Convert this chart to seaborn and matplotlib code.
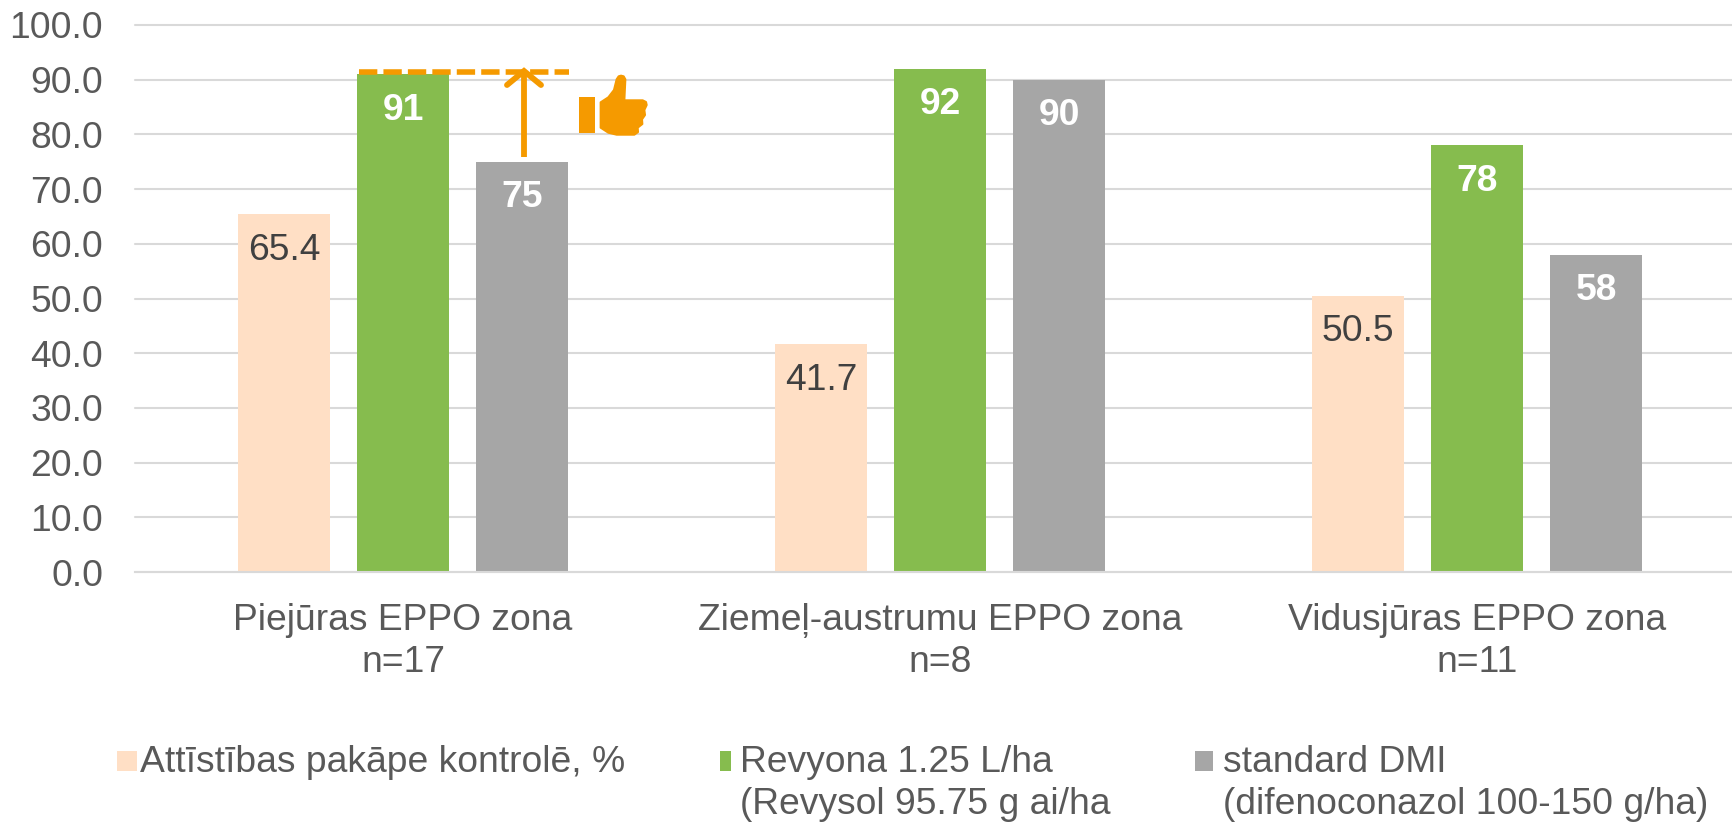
import pandas as pd
import seaborn as sns
import matplotlib
import matplotlib.pyplot as plt
from matplotlib.patches import Polygon, Rectangle
from matplotlib.lines import Line2D
from matplotlib.transforms import Affine2D
matplotlib.use('Agg')

zones = ['Piejūras EPPO zona\nn=17', 'Ziemeļ-austrumu EPPO zona\nn=8', 'Vidusjūras EPPO zona\nn=11']
series = ['Attīstības pakāpe kontrolē, %', 'Revyona 1.25 L/ha\n(Revysol 95.75 g ai/ha', 'standard DMI\n(difenoconazol 100-150 g/ha)']
control = [65.4, 41.7, 50.5]
revyona = [91, 92, 78]
dmi = [75, 90, 58]
yticks = [0, 10, 20, 30, 40, 50, 60, 70, 80, 90, 100]
colors = ['#FFDFC5', '#86BC4E', '#A6A6A6']
label_colors = ['#404040', 'white', 'white']
orange = '#F59A00'
text_color = '#595959'
fs = 26.8

sns.set_theme(style='white')
plt.rcParams['font.family'] = ['Liberation Sans', 'DejaVu Sans']

df = pd.DataFrame({
    'zone': zones * 3,
    'series': [s for s in series for _ in zones],
    'value': control + revyona + dmi,
})

fig = plt.figure(figsize=(17.32, 8.23), dpi=100)
ax = fig.add_axes([134.5 / 1732, 1 - 572 / 823, 1611 / 1732, 547 / 823])
sns.barplot(data=df, x='zone', y='value', hue='series', order=zones, hue_order=series,
            palette=colors, width=0.665, gap=0.225, saturation=1, legend=False,
            linewidth=0, ax=ax)
ax.set_xlim(-0.5, 2.5)
ax.set_ylim(0, 100)
ax.set_xlabel('')
ax.set_ylabel('')
ax.set_yticks(yticks, [f'{v:.1f}' for v in yticks])
ax.tick_params(axis='both', length=0, labelsize=fs, labelcolor=text_color)
ax.tick_params(axis='y', pad=22.5)
ax.tick_params(axis='x', pad=22.5)
for t in ax.get_xticklabels():
    t.set_linespacing(1.25)
ax.grid(axis='y', color='#D9D9D9', lw=1.5)
for l in ax.get_ygridlines():
    l.set_clip_on(False)
ax.set_axisbelow(True)
for s in ['top', 'left', 'right']:
    ax.spines[s].set_visible(False)
ax.spines['bottom'].set_color('#D9D9D9')
ax.spines['bottom'].set_linewidth(1.5)

for cont, vals, col in zip(ax.containers, [control, revyona, dmi], label_colors):
    for bar, v in zip(cont, vals):
        bold = col == 'white'
        ax.annotate(f'{v:.1f}' if not bold else str(v),
                    (bar.get_x() + bar.get_width() / 2, bar.get_height()),
                    xytext=(0, -26), textcoords='offset points', ha='center', va='center',
                    fontsize=fs, color=col, fontweight='bold' if bold else 'normal')

# everything below is placed in image pixels, origin top left
px = Affine2D().scale(1, -1).translate(0, 823)

# legend
marker_x = [(117, 137), (720, 731), (1195, 1213)]
text_x = [140, 740, 1223]
for s, c, (x0, x1), tx in zip(series, colors, marker_x, text_x):
    fig.add_artist(Rectangle((x0, 751), x1 - x0, 20, color=c, lw=0, transform=px))
    for line, y in zip(s.split('\n'), [763, 804]):
        fig.text(tx, y, line, transform=px, fontsize=fs, color=text_color, va='center', ha='left')

# dashed line, arrow, thumb
fig.add_artist(Line2D([359, 569], [72.3, 72.3], transform=px, color=orange, lw=4,
                      dashes=(3.3, 1.1), dash_capstyle='butt'))
fig.add_artist(Line2D([524, 524], [157, 71], transform=px, color=orange, lw=4.2, solid_capstyle='butt'))
fig.add_artist(Line2D([507, 524, 541], [85, 71, 85], transform=px, color=orange, lw=4.2,
                      solid_capstyle='round', solid_joinstyle='miter'))

thumb = [(812, 187), (835, 172), (852, 150), (860, 118), (866, 109), (873, 107), (881, 109), (886, 118),
         (883, 181), (938, 181), (948, 186), (950, 195), (943, 210), (945, 225), (936, 238), (937, 252),
         (923, 263), (924, 276), (913, 284), (860, 284), (835, 278), (812, 263)]
thumb = [(330 + x / 3, 40 + y / 3) for x, y in thumb]
fig.add_artist(Polygon(thumb, closed=True, facecolor=orange, edgecolor=orange, lw=1.5,
                       joinstyle='round', transform=px))
fig.add_artist(Rectangle((578.5, 97), 16.5, 36, color=orange, lw=0, transform=px))

fig.savefig('out.png', dpi=100)
